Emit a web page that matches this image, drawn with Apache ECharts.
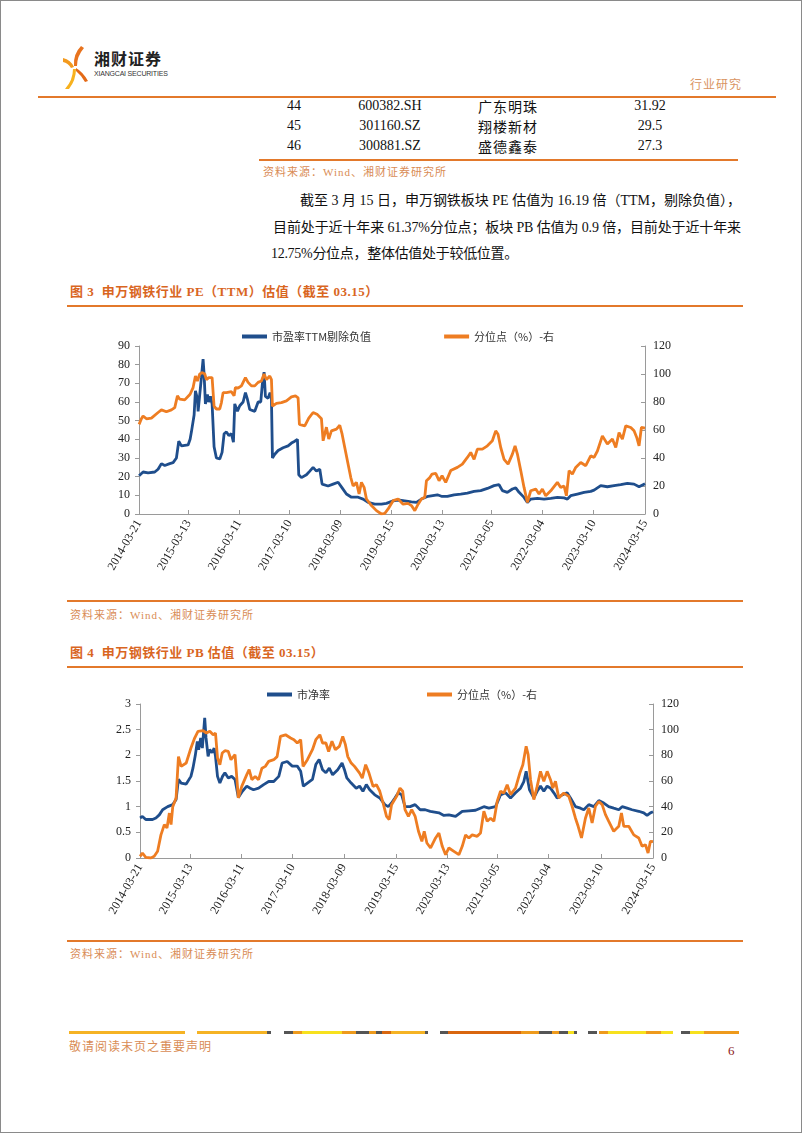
<!DOCTYPE html>
<html><head><meta charset="utf-8">
<script src="https://cdn.jsdelivr.net/npm/echarts@6/dist/echarts.min.js"></script>
<style>
html,body{margin:0;padding:0;background:#fff;}
#page{position:relative;width:802px;height:1133px;overflow:hidden;font-family:"Liberation Serif","Noto Sans CJK SC",serif;color:#111;box-sizing:border-box;border:1px solid #8a8a8a;}
.abs{position:absolute;white-space:nowrap;}
.rule{position:absolute;height:2px;background:#E3792B;}
.cell{position:absolute;text-align:center;font-size:14px;line-height:18px;}
.src{position:absolute;font-size:11px;line-height:14px;color:#D98C55;letter-spacing:1px;font-family:"Liberation Serif","Noto Sans CJK SC",serif;}
.ttl{position:absolute;font-size:13px;line-height:18px;color:#D9661F;font-weight:bold;letter-spacing:0.5px;}
.para{position:absolute;font-size:14px;line-height:18px;white-space:nowrap;}
.seg{position:absolute;height:3px;top:1030px;}
</style>
</head><body>
<div id="page">
  <!-- header -->
  <svg class="abs" style="left:60px;top:43px" width="30" height="48" viewBox="0 0 30 48">
    <path d="M20 2 Q12 10 13 22 L16 22 Q16 12 23 4 Z" fill="#E8731E"/>
    <path d="M2 14 Q10 16 13 23 L10 24 Q7 19 2 18 Z" fill="#F39A1E"/>
    <path d="M12 25 Q12 36 4 45 L8 45 Q15 36 15 25 Z" fill="#F7B11E"/>
    <path d="M15 24 Q22 28 27 37 L24 38 Q20 31 15 27 Z" fill="#E46A17"/>
  </svg>
  <div class="abs" style="left:93px;top:47px;font-family:'Noto Sans CJK SC';font-weight:bold;font-size:16px;line-height:20px;color:#222;letter-spacing:1px">湘财证券</div>
  <div class="abs" style="left:93px;top:68px;font-family:'Liberation Sans';font-size:7px;line-height:9px;color:#333;letter-spacing:-0.2px">XIANGCAI SECURITIES</div>
  <div class="abs" style="left:689px;top:75px;font-size:12px;line-height:16px;color:#D99462;letter-spacing:1px;font-family:'Noto Sans CJK SC'">行业研究</div>
  <div class="rule" style="left:37px;top:95px;width:738px"></div>

  <!-- table tail -->
  <div id="table"></div>
  <div class="rule" style="left:258px;top:158px;width:479px"></div>
  <div class="src" style="left:262px;top:164px">资料来源：Wind、湘财证券研究所</div>

  <!-- paragraph -->
  <div class="para fit" data-w="441" style="left:299px;top:191px">截至 3 月 15 日，申万钢铁板块 PE 估值为 16.19 倍（TTM，剔除负值），</div>
  <div class="para fit" data-w="468" style="left:272px;top:218px">目前处于近十年来 61.37%分位点；板块 PB 估值为 0.9 倍，目前处于近十年来</div>
  <div class="para fit" data-w="247" style="left:270px;top:244px">12.75%分位点，整体估值处于较低位置。</div>

  <!-- figure 3 -->
  <div class="ttl" style="left:69px;top:282px">图 3&nbsp;&nbsp;申万钢铁行业 PE（TTM）估值（截至 03.15）</div>
  <div class="rule" style="left:66px;top:304px;width:676px"></div>
  <div id="c3" class="abs" style="left:0;top:310px;width:802px;height:285px"></div>
  <div class="rule" style="left:66px;top:599px;width:676px"></div>
  <div class="src" style="left:69px;top:607px">资料来源：Wind、湘财证券研究所</div>

  <!-- figure 4 -->
  <div class="ttl" style="left:69px;top:643px">图 4&nbsp;&nbsp;申万钢铁行业 PB 估值（截至 03.15）</div>
  <div class="rule" style="left:66px;top:665px;width:676px"></div>
  <div id="c4" class="abs" style="left:0;top:672px;width:802px;height:268px"></div>
  <div class="rule" style="left:66px;top:939px;width:676px"></div>
  <div class="src" style="left:69px;top:946px">资料来源：Wind、湘财证券研究所</div>

  <!-- footer -->
  <div id="footer"></div>
  <div class="abs" style="left:68px;top:1038px;font-size:12px;line-height:16px;color:#D98C55;letter-spacing:1px;font-family:'Liberation Serif','Noto Sans CJK SC'">敬请阅读末页之重要声明</div>
  <div class="abs" style="left:727px;top:1042px;font-size:13px;line-height:16px;color:#8B1A1A">6</div>
</div>

<script>
// ---------- table rows ----------
const tableRank = ['44', '45', '46'];
const tableCode = ['600382.SH', '301160.SZ', '300881.SZ'];
const tableName = ['广东明珠', '翔楼新材', '盛德鑫泰'];
const tableValue = ['31.92', '29.5', '27.3'];

// ---------- chart data (x in decimal years) ----------
const tickLabels = ['2014-03-21','2015-03-13','2016-03-11','2017-03-10','2018-03-09','2019-03-15','2020-03-13','2021-03-05','2022-03-04','2023-03-10','2024-03-15'];

const peName = '市盈率TTM剔除负值';
const pctName = '分位点（%）-右';
const pbName = '市净率';

const peRatio = [[2014.218,20.5],[2014.297,22.5],[2014.396,22],[2014.527,22.5],[2014.593,24],[2014.659,27],[2014.725,26],[2014.823,27],[2014.889,27.5],[2014.955,30],[2015.001,39],[2015.054,36.5],[2015.185,37],[2015.225,40],[2015.251,44],[2015.304,53],[2015.330,66],[2015.369,62],[2015.383,55],[2015.415,64],[2015.448,73],[2015.481,83],[2015.501,75],[2015.527,59],[2015.567,64],[2015.593,60],[2015.626,63],[2015.659,59],[2015.698,36],[2015.744,30],[2015.810,29.5],[2015.856,33],[2015.896,43],[2015.942,44],[2015.988,42],[2016.040,43],[2016.080,38.5],[2016.106,59],[2016.159,55],[2016.205,58],[2016.271,60],[2016.317,65],[2016.356,61.5],[2016.402,56],[2016.501,55],[2016.567,60],[2016.619,60],[2016.652,70],[2016.685,76],[2016.711,63],[2016.764,62],[2016.803,65],[2016.830,62],[2016.850,30],[2016.896,32],[2016.962,34],[2017.060,35.5],[2017.159,36.5],[2017.225,38],[2017.291,39],[2017.343,40],[2017.369,21],[2017.422,19.5],[2017.521,21],[2017.587,23],[2017.652,25],[2017.718,23],[2017.784,24],[2017.830,16],[2017.948,15],[2018.047,16],[2018.146,17],[2018.225,14],[2018.310,10.7],[2018.409,9],[2018.540,9],[2018.639,8],[2018.738,6.2],[2018.869,5.3],[2019.001,5.3],[2019.100,5.7],[2019.231,7],[2019.330,7.5],[2019.461,7],[2019.593,6.5],[2019.692,6.2],[2019.790,8],[2019.922,9.5],[2020.105,10.3],[2020.197,9.4],[2020.302,9.4],[2020.434,10.3],[2020.565,10.7],[2020.697,11.2],[2020.829,12.1],[2020.960,12.5],[2021.092,13.7],[2021.223,15.2],[2021.322,15.7],[2021.388,12.5],[2021.486,11.6],[2021.585,13.4],[2021.651,14],[2021.717,11.6],[2021.815,8.9],[2021.881,6.2],[2021.947,8],[2022.079,8.4],[2022.210,8],[2022.342,8.4],[2022.473,8.9],[2022.605,8.6],[2022.671,8],[2022.736,9.8],[2022.868,10.7],[2023.000,11.6],[2023.131,12.1],[2023.197,12.8],[2023.329,15.2],[2023.460,14.6],[2023.592,15.2],[2023.723,15.7],[2023.855,16.4],[2023.986,16],[2024.085,14.6],[2024.202,16.19]];

const pePercentile = [[2014.218,64],[2014.264,68],[2014.297,70],[2014.363,68],[2014.461,68.5],[2014.593,72.5],[2014.659,74.4],[2014.757,73],[2014.856,74.4],[2014.922,76],[2014.975,84.4],[2015.021,82],[2015.119,81.5],[2015.225,85.5],[2015.284,90.3],[2015.330,98.6],[2015.369,95],[2015.415,100],[2015.468,101],[2015.514,100],[2015.547,96],[2015.593,97.4],[2015.632,96],[2015.659,97.4],[2015.698,77],[2015.744,75],[2015.810,75],[2015.843,79.6],[2015.876,86.7],[2015.942,86.7],[2016.040,87.4],[2016.093,84.4],[2016.119,90.3],[2016.172,90],[2016.238,91.5],[2016.317,97.4],[2016.369,94],[2016.435,91.5],[2016.501,91.5],[2016.567,94],[2016.632,95],[2016.685,100],[2016.731,96],[2016.797,98.6],[2016.830,96],[2016.850,77],[2016.929,79],[2017.027,79.6],[2017.126,80.8],[2017.225,83.6],[2017.304,84.4],[2017.356,83],[2017.382,64],[2017.488,63],[2017.567,68.5],[2017.652,72.5],[2017.738,71],[2017.817,68],[2017.850,52.3],[2017.915,62],[2017.961,53.5],[2018.014,59.4],[2018.113,60.6],[2018.179,63.4],[2018.225,57],[2018.277,47.5],[2018.343,35.6],[2018.396,26],[2018.442,20],[2018.507,22.6],[2018.560,14.3],[2018.606,22.6],[2018.659,19],[2018.705,10.7],[2018.804,6],[2018.902,2.4],[2019.001,0],[2019.067,0.5],[2019.133,3.6],[2019.231,9.5],[2019.330,10.7],[2019.429,7],[2019.527,7.6],[2019.593,6],[2019.659,2.4],[2019.725,7],[2019.790,10.7],[2019.856,12],[2019.889,23.8],[2019.955,26],[2020.000,28.5],[2020.072,29],[2020.138,23.8],[2020.197,27.3],[2020.269,22.6],[2020.368,31],[2020.500,33.3],[2020.598,35.6],[2020.697,40.4],[2020.763,44],[2020.829,39],[2020.894,46.3],[2020.993,46.3],[2021.092,48.7],[2021.190,52.3],[2021.256,59.4],[2021.302,57],[2021.355,47.5],[2021.421,39],[2021.500,35.6],[2021.585,42.8],[2021.638,48.7],[2021.684,42.8],[2021.750,31],[2021.815,19],[2021.881,8.3],[2021.947,16.6],[2022.046,17.8],[2022.111,14.3],[2022.177,17.8],[2022.243,13],[2022.342,16.6],[2022.473,22.6],[2022.539,19],[2022.605,20],[2022.651,13],[2022.704,31],[2022.769,28.5],[2022.835,33.3],[2022.934,36.8],[2023.033,34.5],[2023.131,41.6],[2023.197,40.4],[2023.263,45],[2023.361,55.8],[2023.460,50],[2023.559,53.5],[2023.625,47.5],[2023.690,58.2],[2023.756,53.5],[2023.822,63],[2023.921,61.8],[2023.986,59.4],[2024.039,54.7],[2024.085,48.7],[2024.131,61.8],[2024.202,61.37]];

const pbRatio = [[2014.218,0.78],[2014.264,0.81],[2014.329,0.75],[2014.460,0.75],[2014.526,0.78],[2014.592,0.84],[2014.657,0.94],[2014.755,1.0],[2014.854,1.04],[2014.919,1.14],[2014.965,1.53],[2015.017,1.46],[2015.116,1.44],[2015.208,1.59],[2015.247,1.75],[2015.293,2.0],[2015.332,2.27],[2015.358,2.11],[2015.398,2.34],[2015.430,2.14],[2015.476,2.73],[2015.502,2.34],[2015.542,1.98],[2015.575,2.11],[2015.620,2.05],[2015.660,2.14],[2015.686,1.98],[2015.725,1.59],[2015.771,1.46],[2015.823,1.59],[2015.869,1.66],[2015.935,1.56],[2016.000,1.59],[2016.066,1.53],[2016.131,1.18],[2016.210,1.30],[2016.295,1.40],[2016.361,1.36],[2016.426,1.33],[2016.525,1.36],[2016.623,1.43],[2016.721,1.49],[2016.820,1.49],[2016.918,1.59],[2016.983,1.85],[2017.082,1.88],[2017.180,1.79],[2017.278,1.79],[2017.344,1.69],[2017.396,1.40],[2017.475,1.46],[2017.573,1.53],[2017.639,1.82],[2017.704,1.92],[2017.770,1.72],[2017.835,1.66],[2017.901,1.75],[2017.966,1.62],[2018.065,1.72],[2018.150,1.85],[2018.196,1.72],[2018.242,1.56],[2018.327,1.46],[2018.425,1.36],[2018.491,1.40],[2018.556,1.30],[2018.622,1.43],[2018.687,1.33],[2018.786,1.23],[2018.884,1.17],[2018.982,1.04],[2019.048,1.0],[2019.113,1.07],[2019.179,1.17],[2019.244,1.27],[2019.310,1.23],[2019.375,1.0],[2019.474,1.0],[2019.572,1.04],[2019.670,0.94],[2019.768,0.94],[2019.867,0.91],[2020.035,0.88],[2020.132,0.83],[2020.229,0.84],[2020.359,0.81],[2020.489,0.91],[2020.618,0.92],[2020.748,0.93],[2020.910,1.0],[2021.007,0.97],[2021.137,1.0],[2021.234,1.23],[2021.331,1.27],[2021.429,1.17],[2021.526,1.27],[2021.623,1.36],[2021.688,1.49],[2021.733,1.69],[2021.798,1.33],[2021.883,1.17],[2021.947,1.30],[2022.012,1.40],[2022.077,1.30],[2022.142,1.40],[2022.207,1.36],[2022.272,1.27],[2022.336,1.17],[2022.434,1.23],[2022.531,1.27],[2022.596,1.17],[2022.693,1.0],[2022.790,0.97],[2022.855,0.94],[2022.952,1.04],[2023.050,1.0],[2023.147,1.12],[2023.244,1.07],[2023.341,1.0],[2023.438,0.97],[2023.536,0.94],[2023.601,1.0],[2023.698,0.97],[2023.795,0.94],[2023.925,0.91],[2024.022,0.88],[2024.087,0.83],[2024.152,0.88],[2024.202,0.9]];

const pbPercentile = [[2014.218,1.3],[2014.264,3.9],[2014.329,0.5],[2014.428,0],[2014.493,1.3],[2014.559,5.2],[2014.624,18],[2014.690,26],[2014.742,23.4],[2014.788,35],[2014.821,26],[2014.854,40],[2014.919,46.8],[2014.965,79],[2015.017,71.4],[2015.116,74],[2015.208,85.7],[2015.280,93.5],[2015.345,98.7],[2015.444,99.2],[2015.509,97.4],[2015.575,98.7],[2015.640,96],[2015.686,97.4],[2015.725,78],[2015.771,72.7],[2015.817,81.8],[2015.869,83.6],[2015.935,83],[2015.987,76.6],[2016.066,80.5],[2016.131,46.8],[2016.197,55.8],[2016.295,65],[2016.341,68.8],[2016.394,61],[2016.459,63.6],[2016.525,61],[2016.590,70],[2016.656,71.4],[2016.721,75.3],[2016.820,76.6],[2016.885,79],[2016.951,94.8],[2017.049,96],[2017.147,93.5],[2017.213,92.2],[2017.278,89.6],[2017.344,92.2],[2017.390,71.4],[2017.475,76.6],[2017.573,84.4],[2017.639,92.2],[2017.717,96],[2017.770,89.6],[2017.835,89.6],[2017.888,83],[2017.953,91],[2018.019,84.4],[2018.097,87],[2018.163,94.8],[2018.215,88.3],[2018.261,79],[2018.327,74],[2018.392,71.4],[2018.491,66.2],[2018.543,62.3],[2018.609,72.7],[2018.674,66.2],[2018.753,55.8],[2018.818,57.1],[2018.884,52],[2018.949,42.8],[2019.015,32.5],[2019.067,30],[2019.113,41.5],[2019.211,48],[2019.277,54.5],[2019.330,52],[2019.375,37.7],[2019.441,32.5],[2019.506,37.7],[2019.572,32.5],[2019.637,20.8],[2019.703,13],[2019.749,20.8],[2019.801,11.7],[2019.873,7.8],[2019.970,15.6],[2020.035,19.5],[2020.100,9.1],[2020.165,2.6],[2020.229,7.8],[2020.327,5.2],[2020.424,2.6],[2020.489,9.1],[2020.554,18],[2020.618,15.6],[2020.683,18],[2020.780,16.9],[2020.845,19.5],[2020.910,36.4],[2020.975,28.6],[2021.040,31],[2021.105,28.6],[2021.169,44],[2021.234,52],[2021.299,50.6],[2021.364,57.1],[2021.429,49.4],[2021.526,54.5],[2021.610,66.2],[2021.669,72.7],[2021.733,87],[2021.772,80.5],[2021.818,61],[2021.883,45.5],[2021.947,55.8],[2022.012,67.5],[2022.077,59.7],[2022.142,67.5],[2022.207,61],[2022.252,54.5],[2022.304,59.7],[2022.369,46.8],[2022.466,50.6],[2022.563,48],[2022.628,40.3],[2022.693,31],[2022.745,24.7],[2022.810,15.6],[2022.887,31],[2022.952,39],[2023.017,27.3],[2023.082,40.3],[2023.147,44],[2023.212,41.6],[2023.277,33.8],[2023.341,28.6],[2023.438,20.8],[2023.536,24.7],[2023.588,35],[2023.633,24.7],[2023.730,24.7],[2023.828,18],[2023.925,15.6],[2023.990,9.1],[2024.055,10.4],[2024.106,3.9],[2024.152,13],[2024.202,12.75]];

// ---------- static page pieces ----------
(function(){
  const t = document.getElementById('table');
  const centers = [293, 389, 507, 649];
  const widths = [60, 120, 100, 100];
  const rowsY = [96, 116, 136];
  const cols = [tableRank, tableCode, tableName, tableValue];
  let html = '';
  for (let r = 0; r < 3; r++) {
    for (let c = 0; c < 4; c++) {
      const fam = c === 2 ? "font-family:'Noto Sans CJK SC';letter-spacing:1px;" : '';
      html += '<div class="cell" style="left:' + (centers[c] - widths[c] / 2) + 'px;top:' + rowsY[r] + 'px;width:' + widths[c] + 'px;' + fam + '">' + cols[c][r] + '</div>';
    }
  }
  t.innerHTML = html;
  // decorative footer bar
  const Y = '#F5B324', O = '#EE9A1C', D = '#555555', R = '#D9660F', L = '#F7E11E';
  const segs = [[68,184,Y],[196,266,Y],[266,270,D],[283,292,D],[292,301,O],[301,341,L],[341,355,O],[355,368,D],[368,375,O],[375,381,D],[381,390,R],[390,424,Y],[424,427,D],[439,447,D],[447,520,R],[520,538,O],[538,551,D],[551,558,O],[558,567,D],[567,573,L],[573,576,D],[587,596,D],[598,607,O],[607,645,L],[645,660,O],[660,672,L],[680,689,D],[689,703,L],[703,738,O]];
  let f = '';
  segs.forEach(s => { f += '<div class="seg" style="left:' + s[0] + 'px;width:' + (s[1] - s[0]) + 'px;background:' + s[2] + '"></div>'; });
  document.getElementById('footer').innerHTML = f;
  // fit paragraph lines to their measured widths in the reference
  document.querySelectorAll('.fit').forEach(el => {
    const target = +el.dataset.w;
    const n = el.textContent.length;
    const w = el.getBoundingClientRect().width;
    el.style.letterSpacing = ((target - w) / n) + 'px';
  });
})();

// ---------- helpers ----------
function labelToYear(s) {
  const Y = +s.slice(0, 4);
  const d = Date.UTC(Y, +s.slice(5, 7) - 1, +s.slice(8, 10));
  const a = Date.UTC(Y, 0, 1), b = Date.UTC(Y + 1, 0, 1);
  return Y + (d - a) / (b - a);
}
const tickYears = tickLabels.map(labelToYear);
function yearLabel(v) {
  let best = 0, bd = Infinity;
  tickYears.forEach((t, i) => { const d = Math.abs(t - v); if (d < bd) { bd = d; best = i; } });
  return tickLabels[best];
}

const BLUE = '#1F4E8C', ORANGE = '#EE7D22';
const AX = '#9a9a9a';
const numFont = { fontFamily: 'Liberation Serif', fontSize: 12, color: '#222' };

function buildOption(cfg) {
  return {
    animation: false,
    legend: {
      left: cfg.legendLeft, top: cfg.legendTop, itemGap: cfg.legendGap,
      itemWidth: 25, itemHeight: 4, icon: 'rect',
      textStyle: { fontFamily: 'Noto Sans CJK SC', fontSize: 11, color: '#333' },
      data: [cfg.leftName, pctName]
    },
    grid: cfg.grid,
    xAxis: {
      type: 'value', min: tickYears[0], max: tickYears[tickYears.length - 1],
      axisLine: { show: true, onZero: false, lineStyle: { color: AX, width: 1 } },
      axisTick: { show: true, inside: true, length: 4, customValues: tickYears, lineStyle: { color: AX } },
      axisLabel: Object.assign({ rotate: 60, margin: 7, customValues: tickYears, formatter: v => yearLabel(v), hideOverlap: false }, numFont),
      splitLine: { show: false }
    },
    yAxis: [
      {
        type: 'value', min: 0, max: cfg.leftMax, interval: cfg.leftInterval,
        axisLine: { show: true, lineStyle: { color: AX } },
        axisTick: { show: true, inside: false, length: 4, lineStyle: { color: AX } },
        axisLabel: Object.assign({ margin: 9 }, numFont),
        splitLine: { show: false }
      },
      {
        type: 'value', min: 0, max: 120, interval: 20,
        axisLine: { show: true, lineStyle: { color: AX } },
        axisTick: { show: true, inside: true, length: 4, lineStyle: { color: AX } },
        axisLabel: Object.assign({ margin: 8 }, numFont),
        splitLine: { show: false }
      }
    ],
    series: [
      { name: cfg.leftName, type: 'line', yAxisIndex: 0, data: cfg.leftData, showSymbol: false, symbol: 'none',
        lineStyle: { color: BLUE, width: 2.8 }, itemStyle: { color: BLUE } },
      { name: pctName, type: 'line', yAxisIndex: 1, data: cfg.pctData, showSymbol: false, symbol: 'none',
        lineStyle: { color: ORANGE, width: 2.8 }, itemStyle: { color: ORANGE } }
    ]
  };
}

const c3 = echarts.init(document.getElementById('c3'), null, { renderer: 'canvas' });
c3.setOption(buildOption({
  leftName: peName, leftData: peRatio, pctData: pePercentile,
  leftMax: 90, leftInterval: 10,
  grid: { left: 138, right: 158, top: 35, bottom: 82 },
  legendLeft: 236, legendTop: 15, legendGap: 73
}));

const c4 = echarts.init(document.getElementById('c4'), null, { renderer: 'canvas' });
c4.setOption(buildOption({
  leftName: pbName, leftData: pbRatio, pctData: pbPercentile,
  leftMax: 3, leftInterval: 0.5,
  grid: { left: 139, right: 150, top: 31, bottom: 83 },
  legendLeft: 261, legendTop: 11, legendGap: 97
}));
</script>
</body></html>
